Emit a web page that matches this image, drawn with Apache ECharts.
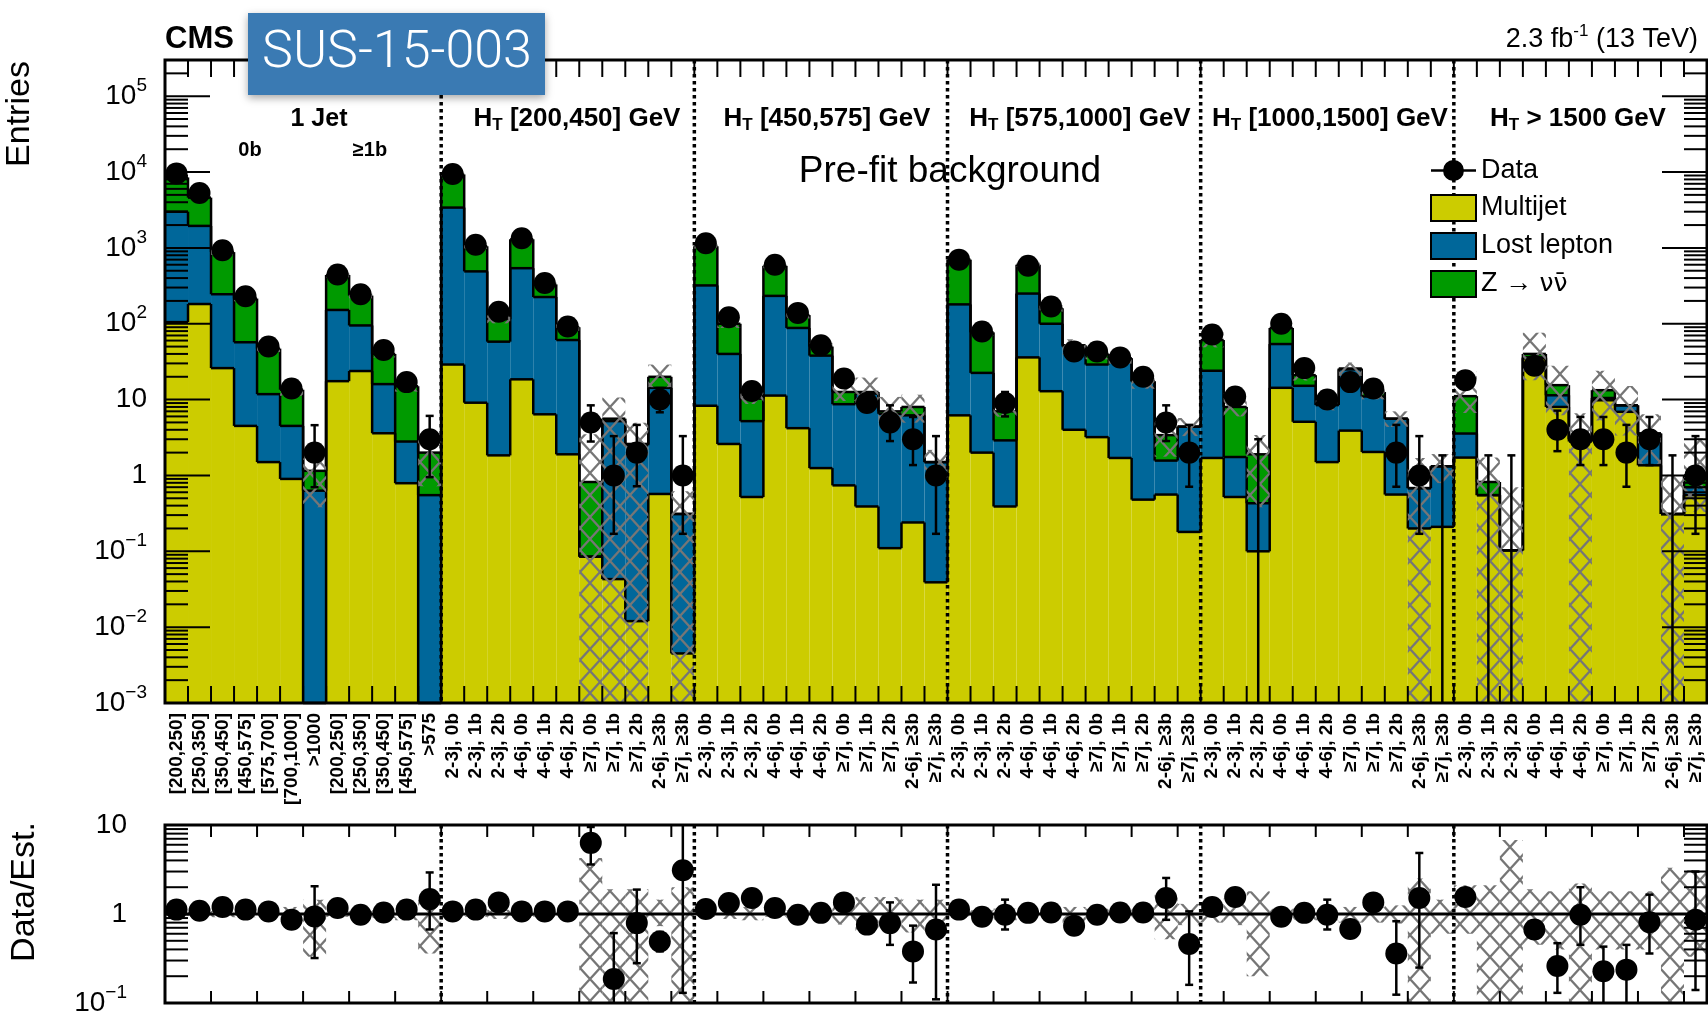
<!DOCTYPE html>
<html>
<head>
<meta charset="utf-8">
<script src="https://cdn.jsdelivr.net/npm/echarts@6/dist/echarts.min.js"></script>
<style>
  html, body { margin: 0; padding: 0; background: #fff; }
  #chart { width: 1708px; height: 1019px; }
</style>
</head>
<body>
<div id="chart"></div>
<script>
// ---- bin labels -------------------------------------------------------
const monojet0bLabels = ['[200,250]', '[250,350]', '[350,450]', '[450,575]', '[575,700]', '[700,1000]', '>1000'];
const monojet1bLabels = ['[200,250]', '[250,350]', '[350,450]', '[450,575]', '>575'];
const multijetLabels = ['2-3j, 0b', '2-3j, 1b', '2-3j, 2b', '4-6j, 0b', '4-6j, 1b', '4-6j, 2b',
                        '\u22657j, 0b', '\u22657j, 1b', '\u22657j, 2b', '2-6j, \u22653b', '\u22657j, \u22653b'];
const htRegions = ['[200,450]', '[450,575]', '[575,1000]', '[1000,1500]', '> 1500'];
const binLabels = monojet0bLabels.concat(monojet1bLabels,
  multijetLabels, multijetLabels, multijetLabels, multijetLabels, multijetLabels);
const groupEdges = [12, 23, 34, 45, 56];

// ---- pre-fit background estimates (entries per bin) --------------------
const multijet = [
  105, 182, 26, 4.5, 1.5, 0.9, 0, 17.5, 23.8, 3.6, 0.79, 0,
  29, 9.1, 1.84, 18.5, 6.4, 1.9, 0.085, 0.043, 0.012, 0.57, 0.0045,
  8.3, 2.6, 0.52, 11.3, 4.2, 1.25, 0.74, 0.39, 0.11, 0.24, 0.039,
  6.2, 2.0, 0.39, 36, 12.9, 4.0, 3.2, 1.7, 0.48, 0.56, 0.18,
  1.7, 0.52, 0.10, 14.3, 5.1, 1.5, 3.9, 2.04, 0.56, 0.2, 0.21,
  1.72, 0.55, 0.103, 35, 8.0, 2.8, 9.8, 6.9, 1.36, 0.31, 0.55
];
const lostLepton = [
  2895, 1768, 219, 52.5, 10.3, 3.6, 0.63, 134.5, 71.2, 12.4, 2.01, 0.55,
  3371, 481, 56.2, 521.5, 218.6, 59.1, 0, 5.16, 2.49, 13.7, 0.306,
  311.7, 37.4, 4.68, 221.7, 83.8, 36.75, 7.96, 11.6, 6.39, 5.96, 1.46,
  173.8, 20.5, 2.51, 214, 87.1, 46, 25.8, 33.3, 16.9, 1.01, 4.22,
  22.3, 1.23, 0.33, 39.7, 10.1, 7.0, 21.1, 8.96, 5.04, 0.48, 1.11,
  1.85, 0, 0, 1, 3.4, 0.2, 0.7, 1.5, 2.21, 0, 0.15
];
const znunu = [
  5500, 2650, 635, 158, 35.2, 9.0, 0.52, 288, 140, 24, 12.2, 1.45,
  5900, 560, 57, 760, 105, 29, 0.735, 0.4, 0.1, 5.7, 0,
  730, 60, 5.1, 347, 42, 12, 3.9, 0.6, 0.5, 1.8, 0,
  520, 54.5, 4.1, 350, 60, 2, 11, 0, 0, 1.83, 0,
  37, 6.25, 1.47, 34, 5.8, 0, 0.7, 1.6, 0, 0, 0,
  7.53, 0.27, 0, 4, 4.1, 0, 2.8, 0, 0, 0, 0.3
];
// relative uncertainty band of the total estimate (lower / upper factor)
const bandLo = [
  0.95, 0.95, 0.92, 0.92, 0.9, 0.83, 0.33, 0.93, 0.92, 0.9, 0.85, 0.36,
  0.95, 0.93, 0.88, 0.95, 0.93, 0.9, 0, 0, 0, 0.73, 0,
  0.93, 0.88, 0.85, 0.93, 0.9, 0.88, 0.76, 0.6, 0.6, 0.62, 0.62,
  0.93, 0.9, 0.85, 0.93, 0.9, 0.75, 0.85, 0.85, 0.8, 0.52, 0.75,
  0.8, 0.75, 0.2, 0.85, 0.85, 0.85, 0.8, 0.8, 0.78, 0, 0.6,
  0.6, 0, 0, 0.45, 0.4, 0, 0.4, 0.4, 0.4, 0, 0.33
];
const bandHi = [
  1.05, 1.05, 1.08, 1.08, 1.1, 1.2, 1.45, 1.07, 1.08, 1.1, 1.15, 1.45,
  1.05, 1.07, 1.12, 1.05, 1.07, 1.1, 4.25, 1.9, 1.9, 1.45, 2.0,
  1.07, 1.12, 1.2, 1.07, 1.1, 1.12, 1.25, 1.55, 1.55, 1.45, 1.45,
  1.07, 1.1, 1.15, 1.07, 1.1, 1.2, 1.15, 1.15, 1.2, 1.65, 1.3,
  1.3, 1.5, 1.8, 1.15, 1.15, 1.15, 1.2, 1.2, 1.25, 2.5, 1.45,
  2.1, 2.1, 6.8, 1.9, 1.8, 2.2, 1.8, 1.8, 1.8, 3.3, 3.1
];

// ---- observed data ------------------------------------------------------
const dataCounts = [
  9600, 5300, 930, 230, 50, 14, 2, 445, 245, 45, 17, 3,
  9400, 1100, 144, 1340, 345, 92, 5, 1, 2, 10, 1,
  1150, 122, 13, 600, 139, 52, 19, 9, 5, 3, 1,
  700, 79, 9, 580, 169, 43, 43, 36, 20, 5, 2,
  72, 11, 0, 100, 26, 10, 17, 14, 2, 1, 0,
  18, 0, 0, 28, 4, 3, 3, 2, 3, 0, 1
];
// ends of the data error bars (null where the bar hides inside the marker)
const dataErrLo = [
  null, null, null, null, null, null, 0.7, null, null, null, null, 0.95,
  null, null, null, null, null, null, 2.8, 0.17, 0.72, 6.8, 0.17,
  null, null, null, null, null, null, null, null, 2.84, 1.37, 0.17,
  null, null, 6.0, null, null, null, null, null, null, 2.84, 0.71,
  null, null, 0, null, null, null, null, null, 0.71, 0.17, 0,
  null, 0, 0, null, 2.09, 1.37, 1.37, 0.71, 1.37, 0, 0.17
];
const dataErrHi = [
  null, null, null, null, null, null, 4.6, null, null, null, null, 6.1,
  null, null, null, null, null, null, 8.4, 3.3, 4.64, 14.2, 3.3,
  null, null, null, null, null, null, null, null, 8.4, 5.9, 3.3,
  null, null, 12.6, null, null, null, null, null, null, 8.4, 4.64,
  null, null, 3.0, null, null, null, null, null, 4.64, 3.3, 1.84,
  null, 1.84, 1.84, null, 7.16, 5.9, 5.9, 4.64, 5.9, 1.84, 3.3
];

// ---- data / estimate ----------------------------------------------------
const ratio = [
  1.12, 1.09, 1.2, 1.12, 1.07, 0.86, 0.94, 1.17, 0.98, 1.04, 1.12, 1.47,
  1.07, 1.12, 1.35, 1.07, 1.07, 1.07, 6.3, 0.186, 0.79, 0.49, 3.1,
  1.14, 1.33, 1.51, 1.17, 0.98, 1.03, 1.35, 0.76, 0.79, 0.38, 0.67,
  1.12, 0.93, 0.98, 1.03, 1.04, 0.74, 0.98, 1.04, 1.04, 1.51, 0.46,
  1.2, 1.55, null, 0.93, 1.03, 0.98, 0.68, 1.35, 0.36, 1.51, null,
  1.55, null, null, 0.67, 0.26, 0.98, 0.227, 0.237, 0.81, null, 0.86
];
const ratioErrLo = [
  null, null, null, null, null, null, 0.32, null, null, null, null, 0.67,
  null, null, null, null, null, null, 3.6, 0.03, 0.28, 0.38, 0.13,
  null, null, null, null, null, null, null, null, 0.45, 0.17, 0.11,
  null, null, 0.67, null, null, null, null, null, null, 0.86, 0.16,
  null, null, null, null, null, 0.67, null, null, 0.124, 0.25, null,
  null, null, null, null, 0.13, 0.45, 0.05, 0.05, 0.36, null, 0.14
];
const ratioErrHi = [
  null, null, null, null, null, null, 2.05, null, null, null, null, 2.93,
  null, null, null, null, null, null, 9.5, 0.61, 1.88, 0.63, 12,
  null, null, null, null, null, null, null, null, 1.35, 0.74, 2.13,
  null, null, 1.45, null, null, null, null, null, null, 2.54, 1.07,
  null, null, null, null, null, 1.45, null, null, 0.83, 4.85, null,
  null, null, null, null, 0.47, 2.0, 0.43, 0.45, 1.65, null, 3.0
];

// ---- axis ranges / tick labels -----------------------------------------
const mainMin = 1e-3, mainMax = 3e5;
const ratioMin = 0.1, ratioMax = 10;
const mainDecades = [1e-3, 1e-2, 1e-1, 1, 10, 100, 1e3, 1e4, 1e5];
const ratioDecades = [0.1, 1, 10];

// ------------------------------------------------------------------------
const FONT = '"Liberation Sans", Arial, Helvetica, sans-serif';
const C_MJ = '#cccc00', C_LL = '#00679a', C_Z = '#009a00';
const NB = binLabels.length;

const clampMain = v => Math.min(Math.max(v, mainMin), mainMax);
const clampRatio = v => Math.min(Math.max(v, ratioMin), ratioMax);

// cumulative stack tops
const topMJ = multijet.slice();
const topLL = multijet.map((v, i) => v + lostLepton[i]);
const topAll = topLL.map((v, i) => v + znunu[i]);

function stackData(lower, upper) {
  return upper.map((u, i) => [i, clampMain(lower ? lower[i] : 0), clampMain(u),
                              clampMain(i > 0 ? upper[i - 1] : u)]);
}

function minorTicks(lo, hi) {
  const out = [];
  for (let e = Math.floor(Math.log10(lo)); e <= Math.ceil(Math.log10(hi)); e++) {
    for (let k = 2; k <= 9; k++) {
      const v = k * Math.pow(10, e);
      if (v > lo && v < hi) out.push(v);
    }
  }
  return out;
}

// cross-hatch fill used for the uncertainty bands
function hatchPattern() {
  const w = 20, h = 22;
  const c = document.createElement('canvas');
  c.width = w; c.height = h;
  const g = c.getContext('2d');
  g.strokeStyle = '#767676';
  g.lineWidth = 2.2;
  g.beginPath();
  g.moveTo(-2, -2.2); g.lineTo(w + 2, h + 2.2);
  g.moveTo(w + 2, -2.2); g.lineTo(-2, h + 2.2);
  g.stroke();
  return c;
}
const HATCH = { image: hatchPattern(), repeat: 'repeat' };

function powLabel(v) {
  const l = Math.log10(v), e = Math.round(l);
  if (Math.abs(l - e) > 1e-6) return '';
  if (e === 0) return '{b|1}';
  if (e === 1) return '{b|10}';
  return '{b|10}{s|' + (e < 0 ? '\u2212' + (-e) : e) + '}';
}
const labelRich = {
  b: { fontFamily: FONT, fontSize: 28, color: '#000', lineHeight: 40, verticalAlign: 'middle' },
  s: { fontFamily: FONT, fontSize: 19, color: '#000', lineHeight: 18, verticalAlign: 'top' }
};

// ---- renderers ----------------------------------------------------------
const LINE = { stroke: '#000', lineWidth: 2.5 };

function stackRenderer(color) {
  return function (params, api) {
    const i = api.value(0);
    const pLo = api.coord([i, api.value(1)]);
    const pHi = api.coord([i + 1, api.value(2)]);
    const yPrev = api.coord([i, api.value(3)])[1];
    const x0 = pLo[0], x1 = pHi[0], yLo = pLo[1], yHi = pHi[1];
    const kids = [];
    if (yLo - yHi > 0.01) {
      kids.push({ type: 'rect', z2: 0, shape: { x: x0, y: yHi, width: x1 - x0, height: yLo - yHi },
                  style: { fill: color } });
    }
    kids.push({ type: 'line', z2: 10, shape: { x1: x0, y1: yHi, x2: x1, y2: yHi }, style: LINE });
    if (i > 0) kids.push({ type: 'line', z2: 10, shape: { x1: x0, y1: yPrev, x2: x0, y2: yHi }, style: LINE });
    return { type: 'group', children: kids };
  };
}

function bandRenderer(params, api) {
  const i = api.value(0);
  const a = api.coord([i, api.value(1)]);
  const b = api.coord([i + 1, api.value(2)]);
  return { type: 'rect', shape: { x: a[0], y: b[1], width: b[0] - a[0], height: a[1] - b[1] },
           style: { fill: HATCH } };
}

function errRenderer(params, api) {
  const x = api.coord([api.value(0), api.value(1)]);
  const top = api.coord([api.value(0), api.value(2)]);
  const kids = [{ type: 'line', shape: { x1: x[0], y1: x[1], x2: x[0], y2: top[1] }, style: LINE }];
  if (api.value(3)) kids.push({ type: 'line', shape: { x1: x[0] - 4, y1: x[1], x2: x[0] + 4, y2: x[1] }, style: LINE });
  if (api.value(4)) kids.push({ type: 'line', shape: { x1: x[0] - 4, y1: top[1], x2: x[0] + 4, y2: top[1] }, style: LINE });
  return { type: 'group', children: kids };
}

function separatorRenderer(params, api) {
  const cs = params.coordSys;
  const x = api.coord([api.value(0), api.value(1)])[0];
  return { type: 'line', shape: { x1: x, y1: cs.y, x2: x, y2: cs.y + cs.height },
           style: { stroke: '#000', lineWidth: 3.5, lineDash: [3.5, 3.5] } };
}

function yTickRenderer(params, api) {
  const cs = params.coordSys;
  const y = api.coord([0, api.value(1)])[1];
  const len = api.value(2);
  return { type: 'group', children: [
    { type: 'line', shape: { x1: cs.x, y1: y, x2: cs.x + len, y2: y }, style: { stroke: '#000', lineWidth: 2 } },
    { type: 'line', shape: { x1: cs.x + cs.width - len, y1: y, x2: cs.x + cs.width, y2: y }, style: { stroke: '#000', lineWidth: 2 } }
  ] };
}

function xTickRenderer(params, api) {
  const cs = params.coordSys;
  const x = api.coord([api.value(0), api.value(1)])[0];
  const len = api.value(2);
  return { type: 'group', children: [
    { type: 'line', shape: { x1: x, y1: cs.y, x2: x, y2: cs.y + len }, style: { stroke: '#000', lineWidth: 2 } },
    { type: 'line', shape: { x1: x, y1: cs.y + cs.height - len, x2: x, y2: cs.y + cs.height }, style: { stroke: '#000', lineWidth: 2 } }
  ] };
}

function frameRenderer(params, api) {
  const cs = params.coordSys;
  return { type: 'rect', shape: { x: cs.x, y: cs.y, width: cs.width, height: cs.height },
           style: { fill: 'none', stroke: '#000', lineWidth: 3 } };
}

function unityRenderer(params, api) {
  const cs = params.coordSys;
  const y = api.coord([0, 1])[1];
  return { type: 'line', shape: { x1: cs.x, y1: y, x2: cs.x + cs.width, y2: y },
           style: { stroke: '#000', lineWidth: 3 } };
}

// ---- series data ----------------------------------------------------------
const mjData = stackData(null, topMJ);
const llData = stackData(topMJ, topLL);
const zData = stackData(topLL, topAll);
const bandData = topAll.map((t, i) => [i, clampMain(t * bandLo[i]), clampMain(t * bandHi[i])]);
const pointData = [];
const pointErr = [];
dataCounts.forEach((n, i) => {
  if (n > 0) pointData.push([i + 0.5, n]);
  if (dataErrHi[i] !== null) {
    const lo = dataErrLo[i];
    pointErr.push([i + 0.5, clampMain(lo), clampMain(dataErrHi[i]), lo > mainMin ? 1 : 0, 1]);
  }
});
const ratioBand = bandLo.map((lo, i) => [i, clampRatio(lo), clampRatio(bandHi[i])]);
const ratioPoints = [];
const ratioErr = [];
ratio.forEach((r, i) => {
  if (r !== null) ratioPoints.push([i + 0.5, r]);
  if (ratioErrHi[i] !== null) {
    const lo = ratioErrLo[i], hi = ratioErrHi[i];
    ratioErr.push([i + 0.5, clampRatio(lo), clampRatio(hi), lo > ratioMin ? 1 : 0, hi < ratioMax ? 1 : 0]);
  }
});
const mainYTicks = mainDecades.map(v => [0, v, 45]).concat(minorTicks(mainMin, mainMax).map(v => [0, v, 23]));
const ratioYTicks = ratioDecades.map(v => [0, v, 45]).concat(minorTicks(ratioMin, ratioMax).map(v => [0, v, 23]));
const mainXTicks = [];
for (let k = 1; k < NB; k++) mainXTicks.push([k, 1, 17]);
const ratioXTicks = [];
for (let k = 2; k < NB; k += 2) ratioXTicks.push([k, 1, 12]);

const G0 = { xAxisIndex: 0, yAxisIndex: 0 };
const G1 = { xAxisIndex: 2, yAxisIndex: 1 };

const DATA_ICON = 'path://M0,11.75h45v2.5h-45z M12,13a10.5,10.5 0 1,1 21,0a10.5,10.5 0 1,1 -21,0z';
const ZNAME = 'Z \u2192 \u03bd\u03bd\u0304';

const headerRich = {
  h: { fontFamily: FONT, fontSize: 26, fontWeight: 'bold', color: '#000', lineHeight: 30, verticalAlign: 'middle' },
  t: { fontFamily: FONT, fontSize: 17, fontWeight: 'bold', color: '#000', lineHeight: 14, verticalAlign: 'bottom' }
};
const headerX = [577, 827, 1080, 1330, 1578];

const graphics = [
  { type: 'text', x: 165, y: 39, z: 100, style: { text: 'CMS', font: 'bold 31px ' + FONT, fill: '#000', verticalAlign: 'middle' } },
  { type: 'group', z: 100, children: [
    { type: 'rect', z: 100, shape: { x: 248, y: 13, width: 297, height: 82 },
      style: { fill: '#3a7ab3', shadowBlur: 8, shadowOffsetY: 3, shadowColor: 'rgba(0,0,0,0.35)' } },
    { type: 'text', z: 101, x: 397, y: 54, style: { text: 'SUS-15-003', fontFamily: 'Roboto, ' + FONT, fontWeight: 300,
      fontSize: 52, fill: '#fff', align: 'center', verticalAlign: 'middle' } }
  ] },
  { type: 'text', x: 1698, y: 40, z: 100, style: {
      text: '{a|2.3 fb}{s|-1}{a| (13 TeV)}', align: 'right', verticalAlign: 'middle',
      rich: { a: { fontFamily: FONT, fontSize: 27, color: '#000', lineHeight: 34, verticalAlign: 'middle' },
              s: { fontFamily: FONT, fontSize: 17, color: '#000', lineHeight: 20, verticalAlign: 'top' } } } },
  { type: 'text', x: 20, y: 114, rotation: Math.PI / 2,
    style: { text: 'Entries', font: '34px ' + FONT, fill: '#000', align: 'center', verticalAlign: 'middle' } },
  { type: 'text', x: 25, y: 892, rotation: Math.PI / 2,
    style: { text: 'Data/Est.', font: '34px ' + FONT, fill: '#000', align: 'center', verticalAlign: 'middle' } },
  { type: 'text', x: 319, y: 119, z: 100, style: { text: '1 Jet', font: 'bold 25px ' + FONT, fill: '#000', align: 'center', verticalAlign: 'middle' } },
  { type: 'text', x: 250, y: 150, z: 100, style: { text: '0b', font: 'bold 20px ' + FONT, fill: '#000', align: 'center', verticalAlign: 'middle' } },
  { type: 'text', x: 370, y: 150, z: 100, style: { text: '\u22651b', font: 'bold 20px ' + FONT, fill: '#000', align: 'center', verticalAlign: 'middle' } },
  { type: 'text', x: 950, y: 172, z: 100, style: { text: 'Pre-fit background', font: '37px ' + FONT, fill: '#000', align: 'center', verticalAlign: 'middle' } }
].concat(htRegions.map((r, k) => ({
  type: 'text', x: headerX[k], y: 119, z: 100,
  style: { text: '{h|H}{t|T}{h| ' + r + ' GeV}', align: 'center', verticalAlign: 'middle', rich: headerRich }
})));

const option = {
  animation: false,
  backgroundColor: '#fff',
  textStyle: { fontFamily: FONT },
  grid: [
    { left: 165, right: 1, top: 60, bottom: 316 },
    { left: 165, right: 1, top: 825, bottom: 16 }
  ],
  xAxis: [
    { type: 'value', gridIndex: 0, min: 0, max: NB, show: false },
    { type: 'category', gridIndex: 0, data: binLabels, position: 'bottom',
      axisLine: { show: false }, axisTick: { show: false }, splitLine: { show: false },
      axisLabel: { interval: 0, rotate: 90, margin: 10, fontFamily: FONT, fontSize: 19,
                   fontWeight: 'bold', color: '#000' } },
    { type: 'value', gridIndex: 1, min: 0, max: NB, show: false }
  ],
  yAxis: [
    { type: 'log', logBase: 10, gridIndex: 0, min: mainMin, max: mainMax,
      axisLine: { show: false }, axisTick: { show: false }, splitLine: { show: false },
      axisLabel: { customValues: mainDecades, formatter: powLabel, rich: labelRich, margin: 18 } },
    { type: 'log', logBase: 10, gridIndex: 1, min: ratioMin, max: ratioMax,
      axisLine: { show: false }, axisTick: { show: false }, splitLine: { show: false },
      axisLabel: { customValues: ratioDecades, formatter: powLabel, rich: labelRich, margin: 38 } }
  ],
  legend: {
    orient: 'vertical', left: 1425, top: 152, itemWidth: 45, itemHeight: 26, itemGap: 10,
    selectedMode: false, z: 50,
    formatter: name => name === ZNAME ? '{a|Z \u2192 }{n|\u03bd\u03bd\u0304}' : name,
    textStyle: { fontFamily: FONT, fontSize: 27, color: '#000', lineHeight: 26,
      rich: {
        a: { fontFamily: FONT, fontSize: 27, color: '#000', lineHeight: 26 },
        n: { fontFamily: '"DejaVu Sans", ' + FONT, fontSize: 25, color: '#000', lineHeight: 26 }
      } },
    itemStyle: { borderColor: '#000', borderWidth: 2 },
    data: [
      { name: 'Data', icon: DATA_ICON, itemStyle: { color: '#000', borderWidth: 0 } },
      { name: 'Multijet', icon: 'rect' },
      { name: 'Lost lepton', icon: 'rect' },
      { name: ZNAME, icon: 'rect' }
    ]
  },
  graphic: graphics,
  series: [
    // stacked background
    Object.assign({ name: 'Multijet', type: 'custom', renderItem: stackRenderer(C_MJ), data: mjData,
      itemStyle: { color: C_MJ }, z: 2 }, G0),
    Object.assign({ name: 'Lost lepton', type: 'custom', renderItem: stackRenderer(C_LL), data: llData,
      itemStyle: { color: C_LL }, z: 2 }, G0),
    Object.assign({ name: ZNAME, type: 'custom', renderItem: stackRenderer(C_Z), data: zData,
      itemStyle: { color: C_Z }, z: 2 }, G0),
    // uncertainty on the total
    Object.assign({ name: 'band', type: 'custom', renderItem: bandRenderer, data: bandData, z: 3, silent: true }, G0),
    // group separators, ticks, frame
    Object.assign({ name: 'sep', type: 'custom', renderItem: separatorRenderer, data: groupEdges.map(e => [e, 1]), z: 4, silent: true }, G0),
    Object.assign({ name: 'yticks', type: 'custom', renderItem: yTickRenderer, data: mainYTicks, z: 6, silent: true }, G0),
    Object.assign({ name: 'xticks', type: 'custom', renderItem: xTickRenderer, data: mainXTicks, z: 6, silent: true }, G0),
    Object.assign({ name: 'frame', type: 'custom', renderItem: frameRenderer, data: [[0, 1]], z: 7, silent: true }, G0),
    // data
    Object.assign({ name: 'Data', type: 'scatter', data: pointData, symbol: 'circle', symbolSize: 22,
      itemStyle: { color: '#000', opacity: 1 }, z: 8 }, G0),
    Object.assign({ name: 'dataErr', type: 'custom', renderItem: errRenderer, data: pointErr, z: 8, silent: true }, G0),

    // ratio panel
    Object.assign({ name: 'ratioBand', type: 'custom', renderItem: bandRenderer, data: ratioBand, z: 3, silent: true }, G1),
    Object.assign({ name: 'unity', type: 'custom', renderItem: unityRenderer, data: [[0, 1]], z: 4, silent: true }, G1),
    Object.assign({ name: 'ratioSep', type: 'custom', renderItem: separatorRenderer, data: groupEdges.map(e => [e, 1]), z: 4, silent: true }, G1),
    Object.assign({ name: 'ratioYticks', type: 'custom', renderItem: yTickRenderer, data: ratioYTicks, z: 6, silent: true }, G1),
    Object.assign({ name: 'ratioXticks', type: 'custom', renderItem: xTickRenderer, data: ratioXTicks, z: 6, silent: true }, G1),
    Object.assign({ name: 'ratioFrame', type: 'custom', renderItem: frameRenderer, data: [[0, 1]], z: 7, silent: true }, G1),
    Object.assign({ name: 'Data/Est.', type: 'scatter', data: ratioPoints, symbol: 'circle', symbolSize: 22,
      itemStyle: { color: '#000', opacity: 1 }, z: 8 }, G1),
    Object.assign({ name: 'ratioErr', type: 'custom', renderItem: errRenderer, data: ratioErr, z: 8, silent: true }, G1)
  ]
};

const chart = echarts.init(document.getElementById('chart'), null, { renderer: 'canvas' });
chart.setOption(option);
</script>
</body>
</html>
